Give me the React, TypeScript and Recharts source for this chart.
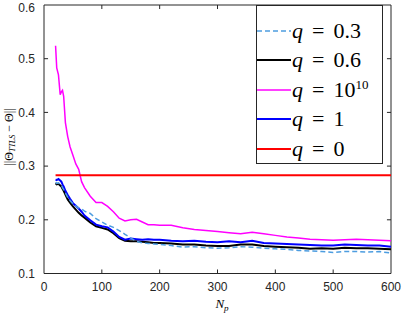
import { LineChart, Line, XAxis, YAxis, ReferenceLine } from "recharts"

// N_p sample positions (shared by all series)
const npValues = [
  20, 22, 25, 28, 30, 32, 34, 37, 41, 45, 50, 55, 60, 65, 70, 80, 90, 100, 110, 120, 130, 140, 150, 160,
  170, 180, 190, 200, 220, 240, 260, 280, 300, 320, 340, 360, 380, 400, 420, 440, 460, 480, 500, 520, 540,
  560, 580, 600,
]

const q03 = [
  0.27, 0.268, 0.269, 0.266, 0.264, 0.26, 0.256, 0.25, 0.242, 0.236, 0.23, 0.226, 0.222, 0.22, 0.216, 0.212,
  0.202, 0.196, 0.19, 0.186, 0.18, 0.173, 0.166, 0.16, 0.157, 0.156, 0.155, 0.154, 0.152, 0.149, 0.15, 0.148,
  0.147, 0.148, 0.15, 0.149, 0.147, 0.146, 0.145, 0.143, 0.142, 0.141, 0.139, 0.141, 0.141, 0.14, 0.141, 0.138,
]

const q06 = [
  0.268, 0.266, 0.267, 0.264, 0.262, 0.258, 0.254, 0.247, 0.238, 0.232, 0.225, 0.219, 0.213, 0.208, 0.204,
  0.195, 0.188, 0.185, 0.182, 0.175, 0.166, 0.161, 0.16, 0.16, 0.159, 0.158, 0.157, 0.157, 0.156, 0.154, 0.154,
  0.152, 0.151, 0.151, 0.154, 0.154, 0.151, 0.15, 0.149, 0.148, 0.146, 0.147, 0.146, 0.148, 0.147, 0.147, 0.146,
  0.145,
]

const qBig = [
  0.524, 0.483, 0.47, 0.433, 0.438, 0.441, 0.43, 0.381, 0.355, 0.336, 0.32, 0.304, 0.294, 0.271, 0.26, 0.244,
  0.232, 0.232, 0.225, 0.215, 0.203, 0.198, 0.2, 0.201, 0.196, 0.191, 0.191, 0.19, 0.19, 0.185, 0.182, 0.18,
  0.178, 0.176, 0.174, 0.177, 0.174, 0.171, 0.168, 0.166, 0.164, 0.163, 0.162, 0.163, 0.164, 0.163, 0.162, 0.161,
]

const q1 = [
  0.275, 0.274, 0.276, 0.273, 0.271, 0.266, 0.262, 0.254, 0.246, 0.239, 0.231, 0.226, 0.221, 0.215, 0.208,
  0.199, 0.191, 0.188, 0.186, 0.178, 0.168, 0.163, 0.165, 0.164, 0.163, 0.164, 0.163, 0.163, 0.161, 0.16, 0.161,
  0.159, 0.158, 0.16, 0.158, 0.161, 0.157, 0.156, 0.155, 0.154, 0.153, 0.152, 0.152, 0.154, 0.153, 0.152, 0.152,
  0.15,
]

// q = 0 is flat
const qZero = 0.283

const xTicks = [0, 100, 200, 300, 400, 500, 600]
const yTicks = [0.1, 0.2, 0.3, 0.4, 0.5, 0.6]

const legendItems = [
  { label: "0.3", color: "#4d9de0", dash: "5 3", width: 1.5 },
  { label: "0.6", color: "#000000", dash: undefined, width: 2 },
  { label: "10", sup: "10", color: "#ff00ff", dash: undefined, width: 1.5 },
  { label: "1", color: "#0000ff", dash: undefined, width: 2 },
  { label: "0", color: "#ff0000", dash: undefined, width: 2 },
]

const data = npValues.map((np, i) => ({ np, q03: q03[i], q06: q06[i], qBig: qBig[i], q1: q1[i] }))

const axisColor = "#262626"
const serif = "'Liberation Serif', 'DejaVu Serif', serif"
const tickFont = { fontSize: 12, fill: axisColor, fontFamily: "'Liberation Sans', Arial, sans-serif" }

function LegendBox() {
  return (
    <div
      style={{
        position: "absolute",
        left: 256,
        top: 5,
        width: 127,
        height: 159,
        boxSizing: "border-box",
        border: "1px solid #262626",
        background: "#fff",
        paddingTop: 10,
      }}
    >
      {legendItems.map((it) => (
        <div key={it.label + (it.sup || "")} style={{ display: "flex", alignItems: "center", height: 29.5 }}>
          <svg width={34} height={6} style={{ flex: "none" }}>
            <line x1={0} x2={34} y1={3} y2={3} stroke={it.color} strokeWidth={it.width} strokeDasharray={it.dash} />
          </svg>
          <span style={{ fontFamily: serif, fontSize: 22, color: "#000", whiteSpace: "nowrap", marginLeft: 1 }}>
            <i>q</i>
            <span style={{ margin: "0 9px" }}>=</span>
            {it.label}
            {it.sup && <sup style={{ fontSize: 13, verticalAlign: "8px" }}>{it.sup}</sup>}
          </span>
        </div>
      ))}
    </div>
  )
}

const XLabel = () => (
  <text x={222} y={308} textAnchor="middle" fontFamily={serif} fontSize={13} fill="#000">
    <tspan fontStyle="italic">N</tspan>
    <tspan fontStyle="italic" fontSize={9} dy={3}>p</tspan>
  </text>
)

const YLabel = () => (
  <text
    x={9}
    y={137}
    transform="rotate(-90, 9, 137)"
    textAnchor="middle"
    dominantBaseline="central"
    fontFamily={serif}
    fontSize={12}
    fill="#000"
  >
    ||Θ
    <tspan fontStyle="italic" fontSize={8} dy={3}>TTLS</tspan>
    <tspan dy={-3}> − Θ||</tspan>
  </text>
)

export default function App() {
  const tickLenX = 7
  const tickLenY = 0.0075
  return (
    <div style={{ position: "absolute", left: 0, top: 0, width: 402, height: 316, background: "#fff" }}>
      <LineChart width={402} height={316} data={data} margin={{ top: 5, right: 11, bottom: 0, left: 0 }}>
        <XAxis
          dataKey="np"
          type="number"
          domain={[0, 600]}
          ticks={xTicks}
          tick={tickFont}
          tickLine={false}
          tickSize={0}
          tickMargin={9}
          height={42.5}
          stroke={axisColor}
          label={<XLabel />}
        />
        <YAxis
          type="number"
          domain={[0.1, 0.6]}
          ticks={yTicks}
          tick={tickFont}
          tickFormatter={(v: number) => v.toFixed(1)}
          tickLine={false}
          tickSize={0}
          tickMargin={9}
          width={44}
          stroke={axisColor}
          label={<YLabel />}
        />
        <ReferenceLine y={0.6} stroke={axisColor} />
        <ReferenceLine x={600} stroke={axisColor} />
        {xTicks.slice(1, -1).map((t) => (
          <ReferenceLine key={"xb" + t} segment={[{ x: t, y: 0.1 }, { x: t, y: 0.1 + tickLenY }]} stroke={axisColor} />
        ))}
        {xTicks.slice(1, -1).map((t) => (
          <ReferenceLine key={"xt" + t} segment={[{ x: t, y: 0.6 }, { x: t, y: 0.6 - tickLenY }]} stroke={axisColor} />
        ))}
        {yTicks.slice(1, -1).map((t) => (
          <ReferenceLine key={"yl" + t} segment={[{ x: 0, y: t }, { x: tickLenX, y: t }]} stroke={axisColor} />
        ))}
        {yTicks.slice(1, -1).map((t) => (
          <ReferenceLine key={"yr" + t} segment={[{ x: 600, y: t }, { x: 600 - tickLenX, y: t }]} stroke={axisColor} />
        ))}
        <Line dataKey="q06" stroke="#000000" strokeWidth={2} dot={false} isAnimationActive={false} />
        <Line dataKey="q1" stroke="#0000ff" strokeWidth={2} dot={false} isAnimationActive={false} />
        <Line dataKey="qBig" stroke="#ff00ff" strokeWidth={1.5} dot={false} isAnimationActive={false} />
        <Line dataKey="q03" stroke="#4d9de0" strokeWidth={1.5} strokeDasharray="5 3" dot={false} isAnimationActive={false} />
        <ReferenceLine
          segment={[{ x: npValues[0], y: qZero }, { x: npValues[npValues.length - 1], y: qZero }]}
          stroke="#ff0000"
          strokeWidth={2}
        />
      </LineChart>
      <LegendBox />
    </div>
  )
}
